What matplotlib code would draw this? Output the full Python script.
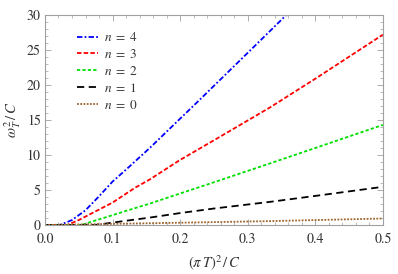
import matplotlib
matplotlib.use("Agg")
import matplotlib.pyplot as plt
from matplotlib.ticker import MultipleLocator

plt.rcParams['mathtext.fontset'] = 'stix'
plt.rcParams['font.family'] = ['STIXGeneral', 'DejaVu Serif']

# values
x4 = [0.0, 0.022, 0.04, 0.06, 0.08, 0.1, 0.121, 0.155, 0.229, 0.3, 0.357, 0.4]
y4 = [0.0, 0.0, 0.7, 2.1, 4.1, 6.2, 8.0, 11.0, 17.9, 24.6, 30.0, 34.1]

x3 = [0.0, 0.033, 0.05, 0.07, 0.1, 0.133, 0.155, 0.2, 0.25, 0.333, 0.4, 0.5]
y3 = [0.0, 0.0, 0.7, 1.7, 3.2, 5.3, 6.5, 9.3, 12.1, 16.8, 20.9, 27.2]

x2 = [0.0, 0.054, 0.07, 0.09, 0.118, 0.155, 0.2, 0.25, 0.333, 0.4, 0.5]
y2 = [0.0, 0.0, 0.5, 1.1, 1.95, 3.05, 4.5, 6.1, 8.8, 11.0, 14.3]

x1 = [0.0, 0.074, 0.09, 0.12, 0.155, 0.2, 0.25, 0.333, 0.4, 0.5]
y1 = [0.0, 0.0, 0.2, 0.6, 1.05, 1.7, 2.35, 3.3, 4.15, 5.45]

x0 = [0.0, 0.1, 0.2, 0.333, 0.5]
y0 = [0.0, 0.15, 0.32, 0.55, 0.92]

fig = plt.figure(figsize=(3.98, 2.74), dpi=100)
ax = fig.add_axes([0.113, 0.179, 0.849, 0.766])

ax.plot(x4, y4, color='#0000ff', lw=1.3, ls=(0, (3, 1.2, 1, 1.2)), label=r'$n\ =\ 4$')
ax.plot(x3, y3, color='#ff0000', lw=1.3, ls=(0, (2.5, 1.2)), label=r'$n\ =\ 3$')
ax.plot(x2, y2, color='#00e000', lw=1.3, ls=(0, (1.8, 1.2)), label=r'$n\ =\ 2$')
ax.plot(x1, y1, color='black', lw=1.3, ls=(0, (4, 2.5)), label=r'$n\ =\ 1$')
ax.plot(x0, y0, color='#a0642d', lw=1.3, ls=(0, (1, 0.8)), label=r'$n\ =\ 0$')

ax.set_xlim(0, 0.5)
ax.set_ylim(0, 30)
ax.xaxis.set_major_locator(MultipleLocator(0.1))
ax.xaxis.set_minor_locator(MultipleLocator(0.02))
ax.yaxis.set_major_locator(MultipleLocator(5))
ax.yaxis.set_minor_locator(MultipleLocator(1))
ax.xaxis.set_major_formatter(lambda v, p: f'{v:.1f}')

for s in ax.spines.values():
    s.set_color('#a0a0a0')
    s.set_linewidth(0.8)
ax.tick_params(which='both', direction='in', top=True, right=True,
               color='#a0a0a0', labelsize=10, labelcolor='#333333')
ax.tick_params(which='major', length=4, width=0.6)
ax.tick_params(which='minor', length=2, width=0.5)
ax.tick_params(axis='x', which='major', pad=5.5)
ax.tick_params(axis='y', which='major', pad=3)

ax.set_xlabel(r'$(\pi\, T)^2\,/\,C$', fontsize=10.5, color='#333333', labelpad=5)
ax.set_ylabel(r'$\omega_T^2\,/\,C$', fontsize=10.5, color='#333333', labelpad=3)

ax.legend(loc='upper left', bbox_to_anchor=(0.06, 0.98), frameon=False,
          fontsize=9.5, handlelength=1.6, handletextpad=0.4, labelspacing=0.3,
          labelcolor='#333333')

fig.savefig('out.png', dpi=100)
